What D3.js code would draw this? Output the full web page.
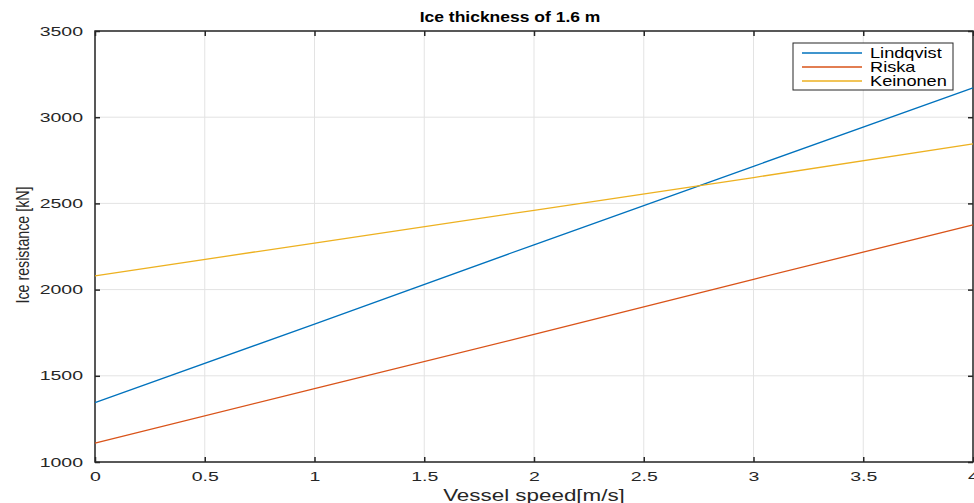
<!DOCTYPE html>
<html>
<head>
<meta charset="utf-8">
<script src="https://cdn.jsdelivr.net/npm/d3@7"></script>
<style>
  body { margin: 0; background: #fff; }
  text { font-family: "Liberation Sans", Arial, sans-serif; }
</style>
</head>
<body>
<div id="chart"></div>
<script>
// data
var speeds = [0, 1, 2, 3, 4];
var lindqvist = [1345, 1800, 2260, 2715, 3170];
var riska = [1110, 1425, 1740, 2060, 2375];
var keinonen = [2080, 2270, 2460, 2650, 2845];
var seriesNames = ["Lindqvist", "Riska", "Keinonen"];
var seriesColors = ["#0072BD", "#D95319", "#EDB120"];
var xTicks = [0, 0.5, 1, 1.5, 2, 2.5, 3, 3.5, 4];
var yTicks = [1000, 1500, 2000, 2500, 3000, 3500];

var W = 974, H = 503;
var margin = { top: 31, right: 1, bottom: 41, left: 95 },
    width = W - margin.left - margin.right,
    height = H - margin.top - margin.bottom;

var svg = d3.select("#chart")
    .append("svg")
    .attr("width", W)
    .attr("height", H);

var g = svg.append("g")
    .attr("transform", "translate(" + margin.left + "," + margin.top + ")");

var x = d3.scaleLinear().domain([0, 4]).range([0, width]);
var y = d3.scaleLinear().domain([1000, 3500]).range([height, 0]);

// grid
g.selectAll(".gx").data(xTicks).join("line")
    .attr("x1", d => x(d)).attr("x2", d => x(d))
    .attr("y1", 0).attr("y2", height)
    .attr("stroke", "#e3e3e3").attr("stroke-width", 1);
g.selectAll(".gy").data(yTicks).join("line")
    .attr("y1", d => y(d)).attr("y2", d => y(d))
    .attr("x1", 0).attr("x2", width)
    .attr("stroke", "#e3e3e3").attr("stroke-width", 1);

// box
g.append("rect")
    .attr("x", 0).attr("y", 0)
    .attr("width", width).attr("height", height)
    .attr("fill", "none").attr("stroke", "#262626").attr("stroke-width", 1.5);

// axes, ticks inside
var xAxis = g.append("g")
    .attr("transform", "translate(0," + height + ")")
    .call(d3.axisBottom(x).tickValues(xTicks).tickSizeInner(-5).tickSizeOuter(0).tickPadding(10)
        .tickFormat(d3.format("")));
var xTop = g.append("g")
    .call(d3.axisTop(x).tickValues(xTicks).tickSizeInner(-5).tickSizeOuter(0).tickFormat(""));
var yAxis = g.append("g")
    .call(d3.axisLeft(y).tickValues(yTicks).tickSizeInner(-5).tickSizeOuter(0).tickPadding(12)
        .tickFormat(d3.format("")));
var yRight = g.append("g")
    .attr("transform", "translate(" + width + ",0)")
    .call(d3.axisRight(y).tickValues(yTicks).tickSizeInner(-5).tickSizeOuter(0).tickFormat(""));

[xAxis, xTop, yAxis, yRight].forEach(function (a) {
    a.select(".domain").remove();
    a.selectAll(".tick line").attr("stroke", "#262626").attr("stroke-width", 1.5);
    a.selectAll("text").attr("fill", "#262626").style("font-size", "13px");
});
xAxis.selectAll("text").attr("dy", "0.71em").attr("transform", "scale(1.5,1)");
yAxis.selectAll("text").attr("x", 0).attr("transform", "translate(-12,0) scale(1.5,1)");

// lines
var allSeries = [lindqvist, riska, keinonen];
var line = d3.line().x((d, i) => x(speeds[i])).y(d => y(d));
g.selectAll(".series").data(allSeries).join("path")
    .attr("d", d => line(d))
    .attr("fill", "none")
    .attr("stroke", (d, i) => seriesColors[i])
    .attr("stroke-width", 1.3);

// title
svg.append("text")
    .attr("transform", "translate(" + (margin.left + width / 2 - 24) + ",22) scale(1.25,1)")
    .attr("text-anchor", "middle")
    .style("font-size", "14px")
    .style("font-weight", "bold")
    .attr("fill", "#000")
    .text("Ice thickness of 1.6 m");

// x label
svg.append("text")
    .attr("transform", "translate(" + (margin.left + width / 2) + ",501) scale(1.4,1)")
    .attr("text-anchor", "middle")
    .style("font-size", "16px")
    .attr("fill", "#262626")
    .text("Vessel speed[m/s]");

// y label
svg.append("text")
    .attr("transform", "translate(29,245) rotate(-90) scale(0.75,1)")
    .attr("text-anchor", "middle")
    .style("font-size", "19px")
    .attr("fill", "#262626")
    .text("Ice resistance [kN]");

// legend
var legend = svg.append("g").attr("transform", "translate(793,43)");
legend.append("rect")
    .attr("width", 160).attr("height", 47)
    .attr("fill", "#fff").attr("stroke", "#262626").attr("stroke-width", 1);
seriesNames.forEach(function (name, i) {
    var ly = 10 + i * 14;
    legend.append("line")
        .attr("x1", 9).attr("x2", 69)
        .attr("y1", ly).attr("y2", ly)
        .attr("stroke", seriesColors[i]).attr("stroke-width", 1.3);
    legend.append("text")
        .attr("transform", "translate(77," + (ly + 5) + ") scale(1.3,1)")
        .style("font-size", "14px")
        .attr("fill", "#000")
        .text(name);
});
</script>
</body>
</html>
